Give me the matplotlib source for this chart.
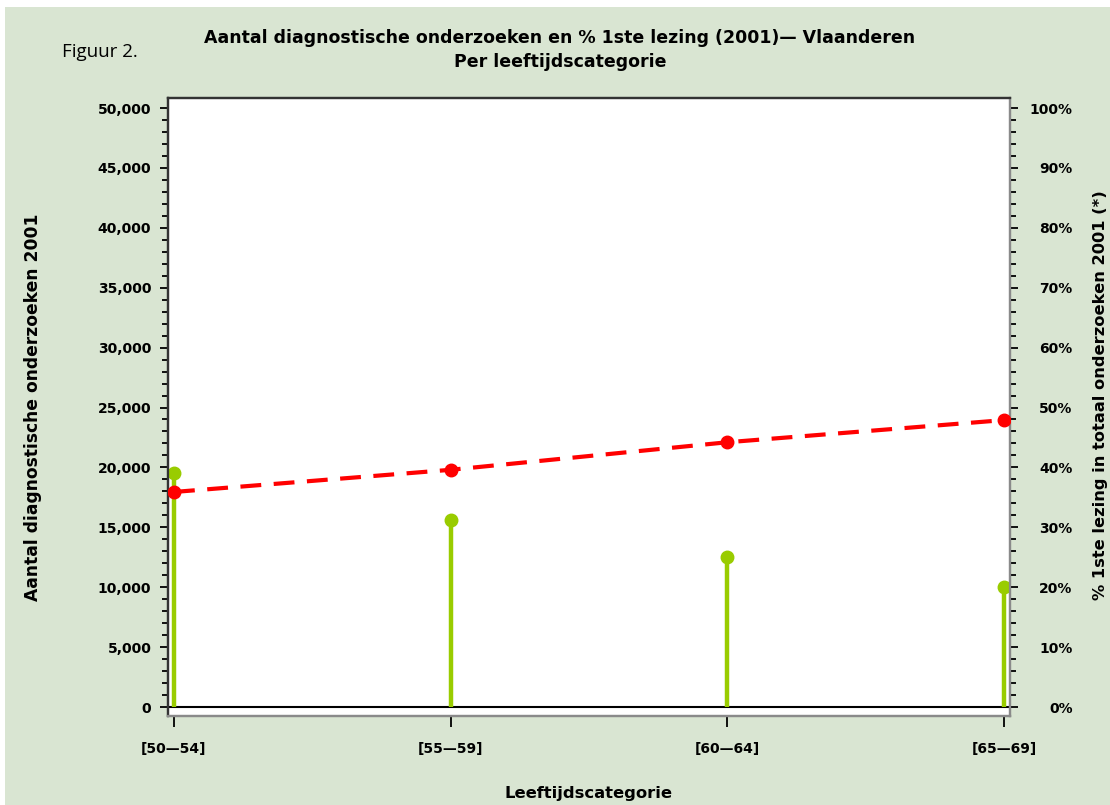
import matplotlib
matplotlib.use("Agg")
import matplotlib.pyplot as plt
from matplotlib.ticker import MultipleLocator, FuncFormatter
from matplotlib.patches import Rectangle

categories = ["[50\u201454]", "[55\u201459]", "[60\u201464]", "[65\u201469]"]
aantal = [19500, 15600, 12500, 10000]
pct_1ste = [35.9, 39.6, 44.2, 47.9]

title_lines = ["Aantal diagnostische onderzoeken en % 1ste lezing (2001)\u2014 Vlaanderen",
               "Per leeftijdscategorie"]

W, H = 1110, 805
fig = plt.figure(figsize=(W / 100, H / 100), dpi=100)
fig.patch.set_facecolor("white")
bg = "#d9e5d2"
fig.patches.append(Rectangle((5 / W, 0), 1 - 5 / W, 1 - 7 / H, transform=fig.transFigure,
                             facecolor=bg, edgecolor="none", zorder=-10))

left, right, top, bottom = 168, 1010, 98, 716
ax = fig.add_axes([left / W, 1 - bottom / H, (right - left) / W, (bottom - top) / H])
ax.set_facecolor("white")

x = list(range(len(categories)))
ax.set_xlim(-6 / 276.67, 3 + 6 / 276.67)
ymin, ymax = -751, 50835
ax.set_ylim(ymin, ymax)

ax.axhline(0, color="black", lw=1.5, zorder=2)
ax.vlines(x, 0, aantal, color="#99cc00", lw=3.2, zorder=3)
ax.plot(x, aantal, "o", color="#99cc00", ms=9, zorder=4)

ax2 = ax.twinx()
ax2.set_ylim(ymin / 500, ymax / 500)
ax2.plot(x, pct_1ste, color="red", lw=3, linestyle=(0, (5, 3)), zorder=5)
ax2.plot(x, pct_1ste, "o", color="red", ms=9, zorder=6)

for a in (ax, ax2):
    for s in ("left", "top"):
        a.spines[s].set_color("#333333")
        a.spines[s].set_linewidth(1.6)
    for s in ("right", "bottom"):
        a.spines[s].set_color("#8a8a8a")
        a.spines[s].set_linewidth(1.6)

ax.set_xticks(x)
ax.set_xticklabels(categories)
ax.yaxis.set_major_locator(MultipleLocator(5000))
ax.yaxis.set_minor_locator(MultipleLocator(1000))
ax.yaxis.set_major_formatter(FuncFormatter(lambda v, p: f"{int(v):,}"))
ax.tick_params(axis="y", which="major", length=6, width=1.3, pad=6, labelsize=10)
ax.tick_params(axis="y", which="minor", length=4, width=1.3)
ax.tick_params(axis="x", length=8, width=1.3, pad=11, labelsize=10)

ax2.yaxis.set_major_locator(MultipleLocator(10))
ax2.yaxis.set_minor_locator(MultipleLocator(2))
ax2.yaxis.set_major_formatter(FuncFormatter(lambda v, p: f"{int(v)}%"))
ax2.tick_params(axis="y", which="major", length=6, width=1.3, pad=39, labelsize=10)
ax2.tick_params(axis="y", which="minor", length=4, width=1.3)
for lab in ax2.get_yticklabels():
    lab.set_horizontalalignment("right")

for lab in ax.get_xticklabels() + ax.get_yticklabels() + ax2.get_yticklabels():
    lab.set_fontweight("bold")

ax.set_xlabel("Leeftijdscategorie", fontsize=11.8, fontweight="bold", labelpad=21)
ax.set_ylabel("Aantal diagnostische onderzoeken 2001", fontsize=12.3, fontweight="bold", labelpad=40)
ax2.set_ylabel("% 1ste lezing in totaal onderzoeken 2001 (*)", fontsize=11.7, fontweight="bold",
               labelpad=15)
ax2.yaxis.label.set_y(0.52)

fig.text(560 / W, 1 - 38 / H, title_lines[0], ha="center", va="center",
         fontsize=12.5, fontweight="bold")
fig.text(560 / W, 1 - 62 / H, title_lines[1], ha="center", va="center",
         fontsize=12.5, fontweight="bold")
fig.text(62 / W, 1 - 52 / H, "Figuur 2.", ha="left", va="center", fontsize=13.5,
         family="Open Sans")

fig.savefig("out.png", dpi=100, facecolor=fig.get_facecolor())
